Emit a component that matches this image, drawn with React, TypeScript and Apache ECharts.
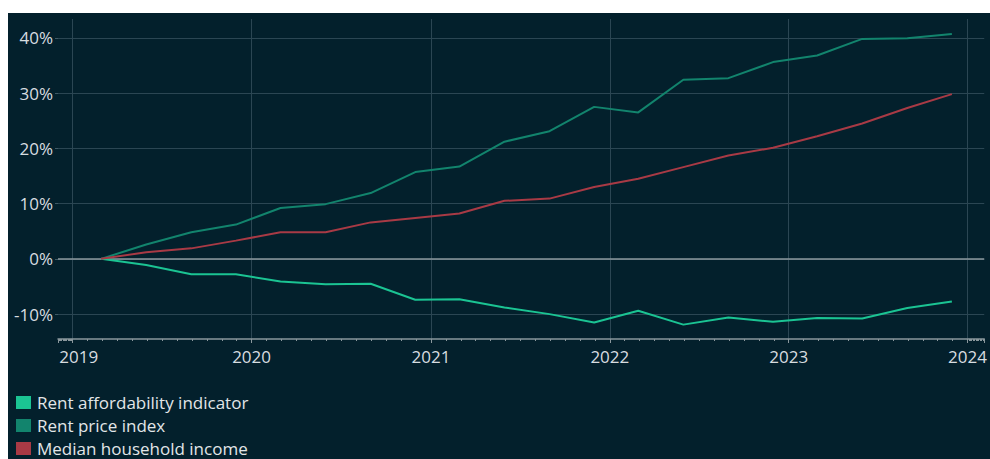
import React, { useEffect, useRef } from "react";
import * as echarts from "echarts";

const dates = [
  "2019-02-28", "2019-05-31", "2019-08-31", "2019-11-30",
  "2020-02-29", "2020-05-31", "2020-08-31", "2020-11-30",
  "2021-02-28", "2021-05-31", "2021-08-31", "2021-11-30",
  "2022-02-28", "2022-05-31", "2022-08-31", "2022-11-30",
  "2023-02-28", "2023-05-31", "2023-08-31", "2023-11-30",
];

const rentAffordability = [0, -1.1, -2.8, -2.8, -4.1, -4.6, -4.5, -7.4, -7.3, -8.8, -10.0, -11.5, -9.4, -11.9, -10.6, -11.4, -10.7, -10.8, -8.9, -7.7];
const rentPriceIndex = [0, 2.6, 4.8, 6.2, 9.2, 9.9, 11.9, 15.7, 16.7, 21.2, 23.1, 27.5, 26.5, 32.4, 32.7, 35.6, 36.8, 39.8, 39.9, 40.7];
const medianIncome = [0, 1.2, 1.9, 3.3, 4.8, 4.8, 6.6, 7.4, 8.2, 10.5, 10.9, 13.0, 14.5, 16.6, 18.7, 20.1, 22.2, 24.5, 27.3, 29.8];

const seriesNames = ["Rent affordability indicator", "Rent price index", "Median household income"];
const seriesColors = ["#1bc493", "#12846d", "#a83a45"];

const FONT = "'Open Sans', 'DejaVu Sans', sans-serif";

export default function App() {
  const ref = useRef<HTMLDivElement>(null);
  useEffect(() => {
    if (!ref.current) return;
    const chart = echarts.init(ref.current, null, { renderer: "svg" });
    const pair = (vals: number[]) => dates.map((d, i) => [d, vals[i]]);
    chart.setOption({
      animation: false,
      backgroundColor: "#03202c",
      textStyle: { fontFamily: FONT },
      grid: { left: 50, right: 0, top: 6, bottom: 120, containLabel: false },
      legend: {
        orient: "vertical",
        left: 8,
        top: 381,
        height: 120,
        padding: 0,
        itemGap: 6,
        itemWidth: 15,
        itemHeight: 13,
        icon: "rect",
        textStyle: { color: "#e2e6e8", fontSize: 17, fontFamily: FONT, padding: [0, 0, 0, 1] },
        data: seriesNames,
      },
      xAxis: {
        type: "time",
        min: "2018-12-02",
        max: "2024-02-04",
        splitNumber: 5,
        axisLine: { onZero: false, lineStyle: { color: "#8a979c", width: 1.5 } },
        axisTick: { show: true, length: 4, lineStyle: { color: "#8a979c" } },
        minorTick: { show: true, splitNumber: 12, length: 2, lineStyle: { color: "#8a979c" } },
        axisLabel: {
          formatter: (v: number) => {
            const y = new Date(v).getFullYear();
            return y === 2019 ? `{first|${y}}` : `${y}`;
          },
          rich: {
            first: { fontSize: 17, fontFamily: FONT, color: "#d8dde0", padding: [0, 0, 0, 12] },
          },
          color: "#d8dde0",
          fontSize: 17,
          fontFamily: FONT,
          margin: 9,
          showMinLabel: false,
          showMaxLabel: false,
        },
        splitLine: {
          show: true,
          showMinLine: false,
          showMaxLine: false,
          lineStyle: { color: "#2b4653", width: 1 },
        },
      },
      yAxis: {
        type: "value",
        min: -14.5,
        max: 43.4,
        splitNumber: 6,
        axisLine: { show: false },
        axisTick: { show: true, length: 3, lineStyle: { color: "#3f5a66" } },
        axisLabel: {
          formatter: "{value}%",
          color: "#d8dde0",
          fontSize: 17,
          fontFamily: FONT,
          margin: 5,
          showMinLabel: false,
          showMaxLabel: false,
        },
        splitLine: {
          show: true,
          showMinLine: false,
          showMaxLine: false,
          lineStyle: { color: "#2b4653", width: 1 },
        },
      },
      series: [
        {
          name: seriesNames[0],
          type: "line",
          data: pair(rentAffordability),
          showSymbol: false,
          color: seriesColors[0],
          lineStyle: { width: 2, color: seriesColors[0] },
          z: 3,
          markLine: {
            silent: true,
            symbol: "none",
            label: { show: false },
            lineStyle: { color: "#8c999e", width: 1.5, type: "solid" },
            data: [{ yAxis: 0 }],
            z: 1,
          },
        },
        {
          name: seriesNames[1],
          type: "line",
          data: pair(rentPriceIndex),
          showSymbol: false,
          color: seriesColors[1],
          lineStyle: { width: 2, color: seriesColors[1] },
          z: 3,
        },
        {
          name: seriesNames[2],
          type: "line",
          data: pair(medianIncome),
          showSymbol: false,
          color: seriesColors[2],
          lineStyle: { width: 2, color: seriesColors[2] },
          z: 3,
        },
      ],
    });
    return () => chart.dispose();
  }, []);
  return (
    <div
      ref={ref}
      style={{ position: "absolute", left: 8, top: 13, width: 982, height: 446 }}
    />
  );
}
